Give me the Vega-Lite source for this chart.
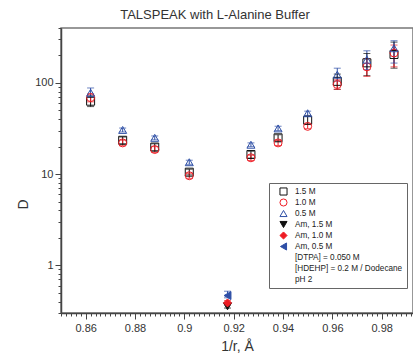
{
  "$schema": "https://vega.github.io/schema/vega-lite/v6.json",
  "width": 352,
  "height": 285,
  "autosize": "none",
  "padding": {"left": 61, "top": 28, "right": 0, "bottom": 41},
  "background": "white",
  "title": {"text": "TALSPEAK with L-Alanine Buffer", "fontSize": 13, "font": "Liberation Sans", "fontWeight": "normal", "color": "#333", "anchor": "middle", "frame": "group", "dx": -22, "offset": 6},
  "config": {
    "view": {"stroke": "#777", "strokeWidth": 1.5},
    "font": "Liberation Sans",
    "axis": {"grid": false, "domainColor": "#444", "domainWidth": 1.5, "tickColor": "#444", "tickWidth": 1, "labelColor": "#333", "labelFont": "Liberation Sans", "labelFontSize": 11, "titleFont": "Liberation Sans", "titleFontWeight": "normal", "titleColor": "#333"}
  },
  "data": {"values": [
    {"series": "1.5 M", "x": 0.862, "y": 63, "lo": 55, "hi": 72},
    {"series": "1.5 M", "x": 0.875, "y": 23.5, "lo": 21.5, "hi": 25.5},
    {"series": "1.5 M", "x": 0.888, "y": 19.8, "lo": 18, "hi": 21.5},
    {"series": "1.5 M", "x": 0.902, "y": 10.5, "lo": 9.8, "hi": 11.3},
    {"series": "1.5 M", "x": 0.927, "y": 16.4, "lo": 15, "hi": 17.8},
    {"series": "1.5 M", "x": 0.938, "y": 25, "lo": 23, "hi": 27},
    {"series": "1.5 M", "x": 0.950, "y": 39, "lo": 35, "hi": 43},
    {"series": "1.5 M", "x": 0.962, "y": 104, "lo": 85, "hi": 125},
    {"series": "1.5 M", "x": 0.974, "y": 166, "lo": 120, "hi": 210},
    {"series": "1.5 M", "x": 0.985, "y": 205, "lo": 145, "hi": 280},
    {"series": "1.0 M", "x": 0.862, "y": 69, "lo": 62, "hi": 76},
    {"series": "1.0 M", "x": 0.875, "y": 22, "lo": 20.5, "hi": 23.5},
    {"series": "1.0 M", "x": 0.888, "y": 18.6, "lo": 17.3, "hi": 20},
    {"series": "1.0 M", "x": 0.902, "y": 9.6, "lo": 9.0, "hi": 10.2},
    {"series": "1.0 M", "x": 0.927, "y": 15.1, "lo": 14.1, "hi": 16.1},
    {"series": "1.0 M", "x": 0.938, "y": 22, "lo": 20.6, "hi": 23.4},
    {"series": "1.0 M", "x": 0.950, "y": 33.4, "lo": 31.5, "hi": 35.5},
    {"series": "1.0 M", "x": 0.962, "y": 96, "lo": 85, "hi": 108},
    {"series": "1.0 M", "x": 0.974, "y": 150, "lo": 118, "hi": 185},
    {"series": "1.0 M", "x": 0.985, "y": 213, "lo": 150, "hi": 260},
    {"series": "0.5 M", "x": 0.862, "y": 78, "lo": 70, "hi": 88},
    {"series": "0.5 M", "x": 0.875, "y": 30.5, "lo": 29, "hi": 32},
    {"series": "0.5 M", "x": 0.888, "y": 25, "lo": 23.8, "hi": 26.2},
    {"series": "0.5 M", "x": 0.902, "y": 13.5, "lo": 12.8, "hi": 14.2},
    {"series": "0.5 M", "x": 0.927, "y": 21, "lo": 20, "hi": 22},
    {"series": "0.5 M", "x": 0.938, "y": 31.7, "lo": 30, "hi": 33.5},
    {"series": "0.5 M", "x": 0.950, "y": 46.5, "lo": 44, "hi": 49},
    {"series": "0.5 M", "x": 0.962, "y": 123, "lo": 105, "hi": 145},
    {"series": "0.5 M", "x": 0.974, "y": 180, "lo": 140, "hi": 225},
    {"series": "0.5 M", "x": 0.985, "y": 240, "lo": 165, "hi": 290},
    {"series": "Am, 1.5 M", "x": 0.9175, "y": 0.355, "lo": 0.34, "hi": 0.37},
    {"series": "Am, 1.0 M", "x": 0.9175, "y": 0.387, "lo": 0.37, "hi": 0.41},
    {"series": "Am, 0.5 M", "x": 0.9175, "y": 0.466, "lo": 0.44, "hi": 0.52}
  ]},
  "encoding": {
    "x": {"field": "x", "type": "quantitative", "scale": {"domain": [0.85, 0.9927], "nice": false, "zero": false},
      "axis": {"title": "1/r, Å", "titleFontSize": 14, "titlePadding": 6, "format": "~g", "labelPadding": 3,
        "values": [0.85,0.852,0.854,0.856,0.858,0.86,0.862,0.864,0.866,0.868,0.87,0.872,0.874,0.876,0.878,0.88,0.882,0.884,0.886,0.888,0.89,0.892,0.894,0.896,0.898,0.9,0.902,0.904,0.906,0.908,0.91,0.912,0.914,0.916,0.918,0.92,0.922,0.924,0.926,0.928,0.93,0.932,0.934,0.936,0.938,0.94,0.942,0.944,0.946,0.948,0.95,0.952,0.954,0.956,0.958,0.96,0.962,0.964,0.966,0.968,0.97,0.972,0.974,0.976,0.978,0.98,0.982,0.984,0.986,0.988,0.99,0.992],
        "labelExpr": "abs(datum.value*50 - round(datum.value*50)) < 0.001 && datum.value > 0.855 ? datum.label : ''",
        "tickSize": {"condition": {"test": "abs(datum.value*50 - round(datum.value*50)) < 0.001", "value": 6}, "value": 3}}}
  },
  "layer": [
    {
      "mark": {"type": "rule", "strokeWidth": 1},
      "encoding": {
        "y": {"field": "lo", "type": "quantitative", "scale": {"type": "log", "domain": [0.3, 400], "nice": false},
          "axis": {"title": "D", "titleFontSize": 14, "titlePadding": 4, "titleY": 176, "labelPadding": 2, "format": "~g",
            "values": [0.3,0.4,0.5,0.6,0.7,0.8,0.9,1,2,3,4,5,6,7,8,9,10,20,30,40,50,60,70,80,90,100,200,300,400],
            "labelExpr": "indexof([1,10,100], datum.value) >= 0 ? datum.label : ''",
            "tickSize": {"condition": {"test": "indexof([1,10,100], datum.value) >= 0", "value": 6}, "value": 3}}},
        "y2": {"field": "hi"},
        "color": {"field": "series", "type": "nominal", "legend": null,
          "scale": {"domain": ["1.5 M", "1.0 M", "0.5 M", "Am, 1.5 M", "Am, 1.0 M", "Am, 0.5 M"], "range": ["#111111", "#ee1c24", "#2e4fa6", "#111111", "#ee1c24", "#2e4fa6"]}}
      }
    },
    {
      "mark": {"type": "tick", "orient": "horizontal", "size": 7, "thickness": 1},
      "encoding": {"y": {"field": "lo", "type": "quantitative"}, "color": {"field": "series", "type": "nominal", "legend": null}}
    },
    {
      "mark": {"type": "tick", "orient": "horizontal", "size": 7, "thickness": 1},
      "encoding": {"y": {"field": "hi", "type": "quantitative"}, "color": {"field": "series", "type": "nominal", "legend": null}}
    },
    {
      "mark": {"type": "point", "size": 64, "strokeWidth": 1, "opacity": 1},
      "encoding": {
        "y": {"field": "y", "type": "quantitative"},
        "shape": {"field": "series", "type": "nominal",
          "scale": {"domain": ["1.5 M", "1.0 M", "0.5 M", "Am, 1.5 M", "Am, 1.0 M", "Am, 0.5 M", "[DTPA] = 0.050 M", "[HDEHP] = 0.2 M / Dodecane", "pH 2"],
            "range": ["square", "circle", "triangle-up", "triangle-down", "diamond", "triangle-left", "M0,0", "M0,0", "M0,0"]},
          "legend": {"title": null, "orient": "none", "legendX": 208, "legendY": 155, "padding": 4, "symbolOffset": 6, "labelOffset": 7,
            "labelFontSize": 8.2, "labelFont": "Liberation Sans", "labelColor": "#222", "labelLimit": 300, "symbolSize": 50, "rowPadding": 1, "clipHeight": 9,
            "strokeColor": "#666", "fillColor": "white", "symbolStrokeWidth": 1}},
        "stroke": {"field": "series", "type": "nominal",
          "scale": {"domain": ["1.5 M", "1.0 M", "0.5 M", "Am, 1.5 M", "Am, 1.0 M", "Am, 0.5 M", "[DTPA] = 0.050 M", "[HDEHP] = 0.2 M / Dodecane", "pH 2"],
            "range": ["#111111", "#ee1c24", "#2e4fa6", "#111111", "#ee1c24", "#2e4fa6", "transparent", "transparent", "transparent"]}},
        "fill": {"field": "series", "type": "nominal",
          "scale": {"domain": ["1.5 M", "1.0 M", "0.5 M", "Am, 1.5 M", "Am, 1.0 M", "Am, 0.5 M", "[DTPA] = 0.050 M", "[HDEHP] = 0.2 M / Dodecane", "pH 2"],
            "range": ["transparent", "transparent", "transparent", "#111111", "#ee1c24", "#2e4fa6", "transparent", "transparent", "transparent"]}}
      }
    }
  ]
}
